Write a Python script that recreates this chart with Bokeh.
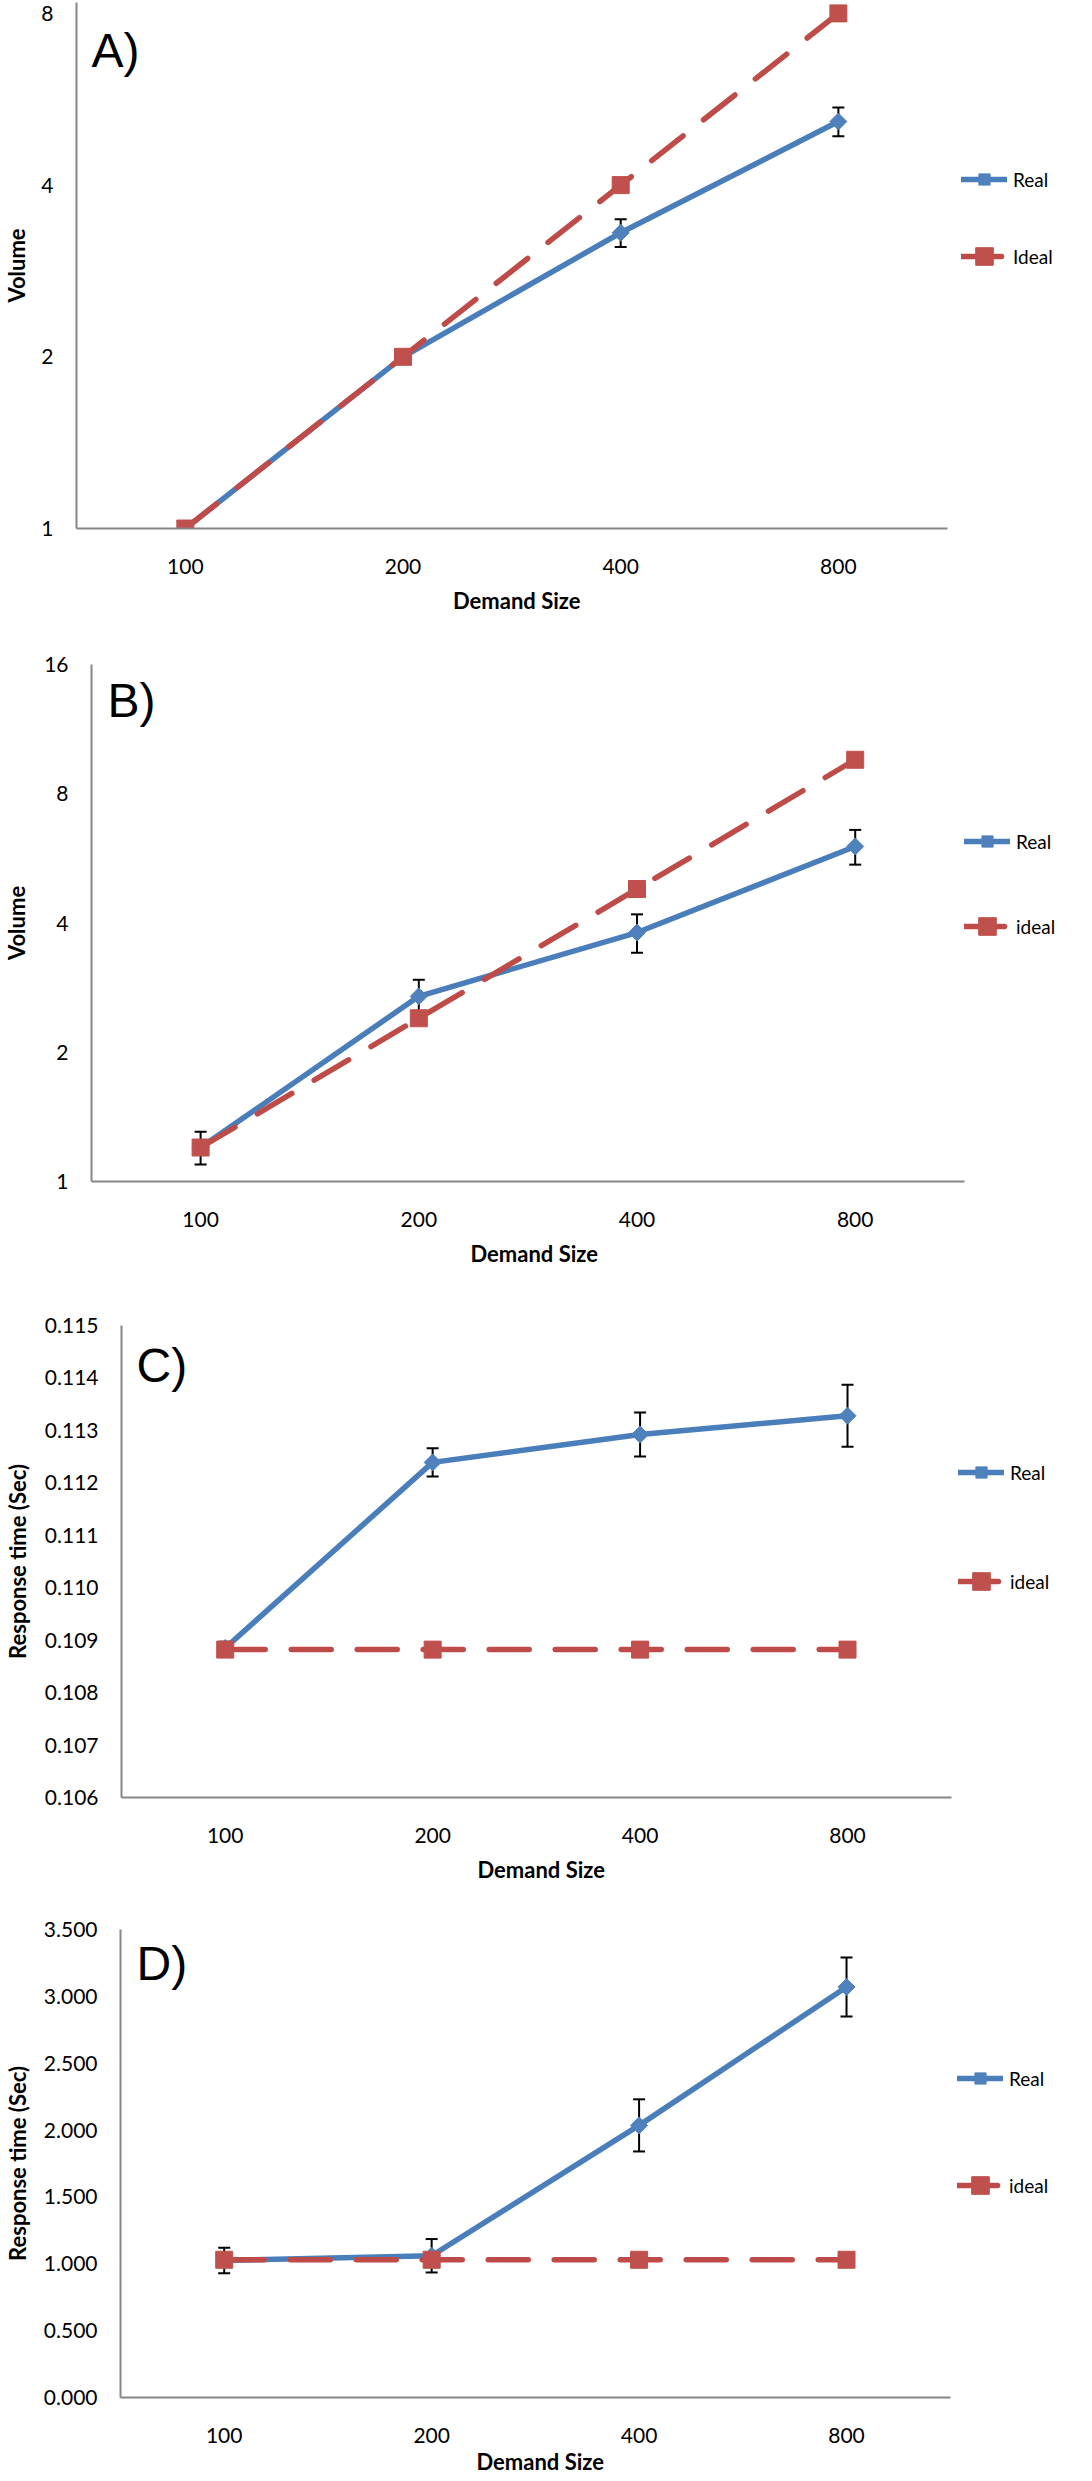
import math
from bokeh.plotting import figure
from bokeh.models import (ColumnDataSource, Range1d, FixedTicker, PrintfTickFormatter,
                          Whisker, TeeHead, Label, Legend, LegendItem, Title)
from bokeh.layouts import column
from bokeh.embed import file_html
from bokeh.resources import INLINE

# ---------------- data ----------------
demand_sizes = ["100", "200", "400", "800"]

vol_a_real = [1.0, 2.0, 3.30, 5.17]
vol_a_real_err = [0.0, 0.0, 0.185, 0.30]
vol_a_ideal = [1.0, 2.0, 4.0, 8.0]

vol_b_real = [1.20, 2.70, 3.80, 6.03]
vol_b_real_err = [0.105, 0.25, 0.39, 0.56]
vol_b_ideal = [1.2, 2.4, 4.8, 9.6]

rt_c_real = [0.10885, 0.11239, 0.11292, 0.11328]
rt_c_real_err = [0.00012, 0.00027, 0.00042, 0.00059]
rt_c_ideal = [0.10882, 0.10882, 0.10882, 0.10882]

rt_d_real = [1.025, 1.06, 2.035, 3.07]
rt_d_real_err = [0.095, 0.125, 0.195, 0.22]
rt_d_ideal = [1.03, 1.03, 1.03, 1.03]

ticks_a = [1, 2, 4, 8]
ticks_b = [1, 2, 4, 8, 16]
ticks_c = [0.106, 0.107, 0.108, 0.109, 0.110, 0.111, 0.112, 0.113, 0.114, 0.115]
ticks_d = [0.0, 0.5, 1.0, 1.5, 2.0, 2.5, 3.0, 3.5]

# ---------------- styles / layout ----------------
BLUE_LINE = "#4A7EBB"
BLUE_FILL = "#4F81BD"
RED_LINE = "#BE4B48"
RED_FILL = "#C0504D"
AXIS_COLOR = "#868686"
FONT = "Lato"
LETTER_FONT = "Liberation Sans"
LINE_W = 5.5
FIG_W = 1068
TITLE_HALF_W = 65  # approx half width of the bold x title

panels = [
    dict(letter="A)", real=vol_a_real, err=vol_a_real_err, ideal=vol_a_ideal, ideal_name="Ideal",
         ylabel="Volume", log=True, yr=(1, 8.36), ticks=ticks_a, fmt="%d",
         height=640, top=2, bottom=112, left=62, axis_len=883,
         letter_xy=(15, 478), ylab_standoff=8, xtitle_standoff=21,
         leg_x=885, leg_real_y=335, leg_ideal_y=250),
    dict(letter="B)", real=vol_b_real, err=vol_b_real_err, ideal=vol_b_ideal, ideal_name="ideal",
         ylabel="Volume", log=True, yr=(1, 16), ticks=ticks_b, fmt="%d",
         height=653, top=24, bottom=112, left=74, axis_len=888,
         letter_xy=(16, 481), ylab_standoff=11, xtitle_standoff=21,
         leg_x=873, leg_real_y=326, leg_ideal_y=233),
    dict(letter="C)", real=rt_c_real, err=rt_c_real_err, ideal=rt_c_ideal, ideal_name="ideal",
         ylabel="Response time (Sec)", log=False, yr=(0.106, 0.115), ticks=ticks_c, fmt="%.3f",
         height=616, top=32, bottom=112, left=107, axis_len=842,
         letter_xy=(15, 432), ylab_standoff=11, xtitle_standoff=21,
         leg_x=837, leg_real_y=311, leg_ideal_y=194),
    dict(letter="D)", real=rt_d_real, err=rt_d_real_err, ideal=rt_d_ideal, ideal_name="ideal",
         ylabel="Response time (Sec)", log=False, yr=(0.0, 3.5), ticks=ticks_d, fmt="%.3f",
         height=569, top=20, bottom=78, left=106, axis_len=842,
         letter_xy=(16, 434), ylab_standoff=10, xtitle_standoff=4,
         leg_x=837, leg_real_y=305, leg_ideal_y=190),
]

x_pos = list(range(1, len(demand_sizes) + 1))


def make_panel(cfg):
    frame_w = FIG_W - cfg["left"]
    n = len(demand_sizes)
    x_end = 0.5 + n * frame_w / cfg["axis_len"]
    p = figure(width=FIG_W, height=cfg["height"],
               x_range=Range1d(0.5, x_end),
               y_range=Range1d(*cfg["yr"]),
               y_axis_type="log" if cfg["log"] else "linear",
               output_backend="svg", toolbar_location=None,
               min_border_top=cfg["top"], min_border_bottom=cfg["bottom"],
               min_border_left=cfg["left"], min_border_right=0)
    p.frame_align = False
    p.xgrid.visible = False
    p.ygrid.visible = False
    p.outline_line_color = None
    p.background_fill_color = "white"
    p.border_fill_color = "white"

    for ax in (p.xaxis[0], p.yaxis[0]):
        ax.axis_line_color = AXIS_COLOR
        ax.axis_line_width = 2
        ax.major_tick_line_color = None
        ax.minor_tick_line_color = None
        ax.major_tick_out = 0
        ax.major_tick_in = 0
        ax.minor_tick_out = 0
        ax.major_label_text_font = FONT
        ax.major_label_text_font_size = "21px"
        ax.major_label_text_color = "#000000"
        ax.axis_label_text_font = FONT
        ax.axis_label_text_font_size = "22px"
        ax.axis_label_text_font_style = "bold"
        ax.axis_label_text_color = "#000000"
    p.xaxis.bounds = (0.5, 0.5 + n)
    p.xaxis.ticker = FixedTicker(ticks=x_pos)
    p.xaxis.major_label_overrides = {x: s for x, s in zip(x_pos, demand_sizes)}
    p.xaxis.major_label_standoff = 30
    p.yaxis.major_label_standoff = 23
    p.yaxis.axis_label = cfg["ylabel"]
    p.yaxis.axis_label_standoff = cfg["ylab_standoff"]
    p.yaxis.ticker = FixedTicker(ticks=cfg["ticks"])
    p.yaxis.formatter = PrintfTickFormatter(format=cfg["fmt"])

    p.add_layout(Title(text="Demand Size", align="left",
                       offset=cfg["axis_len"] / 2 - TITLE_HALF_W,
                       standoff=cfg["xtitle_standoff"], vertical_align="top",
                       text_font=FONT, text_font_size="22px", text_font_style="bold",
                       text_color="#000000"), "below")

    real = cfg["real"]
    err = cfg["err"]
    src_r = ColumnDataSource(dict(x=x_pos, y=real))
    src_i = ColumnDataSource(dict(x=x_pos, y=cfg["ideal"]))
    ex = [c for c, e in zip(x_pos, err) if e > 0]
    eu = [v + e for v, e in zip(real, err) if e > 0]
    el = [v - e for v, e in zip(real, err) if e > 0]
    src_e = ColumnDataSource(dict(x=ex, upper=eu, lower=el))

    wh = Whisker(source=src_e, base="x", upper="upper", lower="lower", dimension="height",
                 line_color="black", line_width=2, level="underlay",
                 upper_head=TeeHead(size=12, line_color="black", line_width=2),
                 lower_head=TeeHead(size=12, line_color="black", line_width=2))
    p.add_layout(wh)

    rl = p.line("x", "y", source=src_r, line_color=BLUE_LINE, line_width=LINE_W,
                line_join="round", line_cap="round")
    rm = p.scatter("x", "y", source=src_r, marker="square", angle=math.pi / 4, size=12,
                   fill_color=BLUE_FILL, line_color=BLUE_FILL)
    il = p.line("x", "y", source=src_i, line_color=RED_LINE, line_width=LINE_W,
                line_dash="40 26", line_cap="round", line_join="round")
    im = p.scatter("x", "y", source=src_i, marker="square", size=17,
                   fill_color=RED_FILL, line_color=RED_FILL)

    for label, rends, gh, ly in (("Real", [rl, rm], 28, cfg["leg_real_y"]),
                                 (cfg["ideal_name"], [il, im], 44, cfg["leg_ideal_y"])):
        lg = Legend(items=[LegendItem(label=label, renderers=rends)],
                    location=(cfg["leg_x"], ly), glyph_width=46, glyph_height=gh,
                    label_height=gh, label_standoff=6, padding=0, margin=0, spacing=0,
                    border_line_color=None, background_fill_alpha=0,
                    label_text_font=FONT, label_text_font_size="19px",
                    label_text_color="#000000")
        p.add_layout(lg)

    p.add_layout(Label(x=cfg["letter_xy"][0], y=cfg["letter_xy"][1], x_units="screen", y_units="screen",
                       text=cfg["letter"], text_font=LETTER_FONT, text_font_size="48px",
                       text_color="#000000", text_baseline="alphabetic", text_align="left"))
    return p


figs = [make_panel(c) for c in panels]
layout = column(*figs, spacing=0)
open("out.html", "w").write(file_html(layout, INLINE))
